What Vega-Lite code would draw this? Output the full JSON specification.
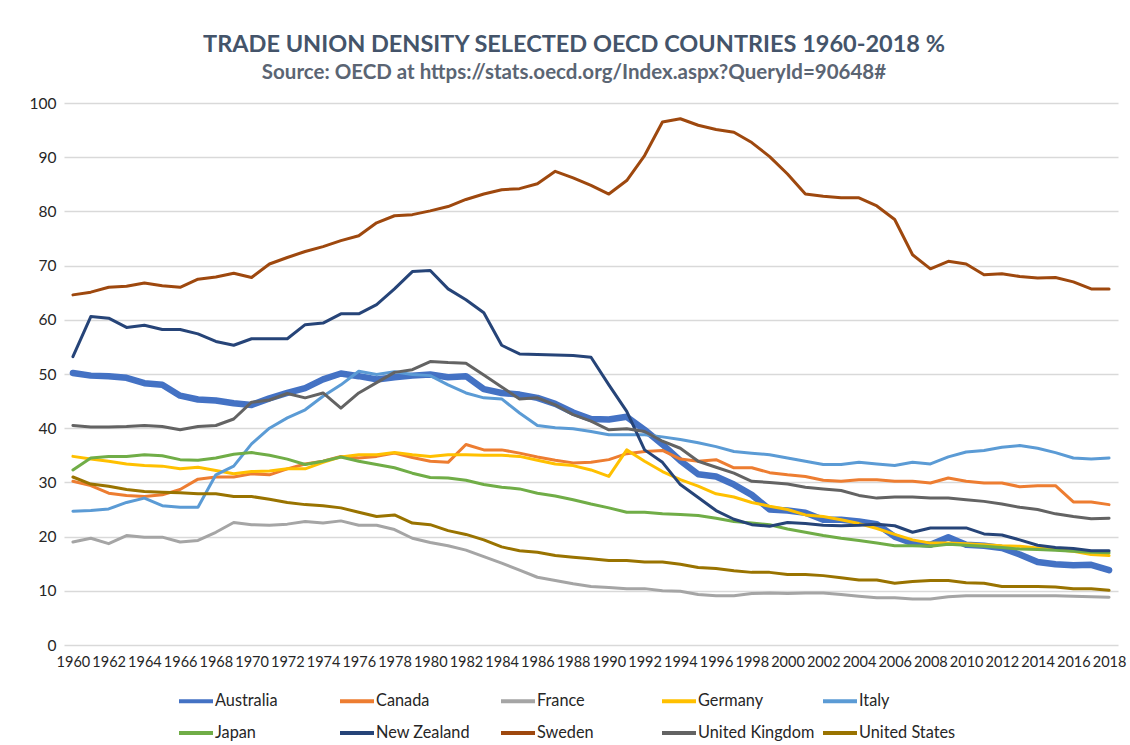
{
"$schema": "https://vega.github.io/schema/vega-lite/v6.json",
"width": 1054, "height": 542,
"autosize": "none",
"padding": {"left": 64, "top": 103, "right": 12, "bottom": 100},
"background": "white",
"title": {"text": "TRADE UNION DENSITY SELECTED OECD COUNTRIES 1960-2018 %", "subtitle": "Source: OECD at https://stats.oecd.org/Index.aspx?QueryId=90648#", "anchor": "middle", "frame": "group", "dx": -17, "offset": 13, "font": "Lato", "fontSize": 23.5, "fontWeight": "bold", "color": "#44546A", "subtitleFont": "Lato", "subtitleFontSize": 20.5, "subtitleFontWeight": "bold", "subtitleColor": "#5B6573", "subtitlePadding": 6},
"config": {"view": {"stroke": null}},
"data": {"values": [
{"country":"Australia","year":1960,"value":50.2},{"country":"Australia","year":1961,"value":49.7},{"country":"Australia","year":1962,"value":49.6},{"country":"Australia","year":1963,"value":49.3},{"country":"Australia","year":1964,"value":48.3},{"country":"Australia","year":1965,"value":48.0},{"country":"Australia","year":1966,"value":46.0},{"country":"Australia","year":1967,"value":45.3},{"country":"Australia","year":1968,"value":45.1},{"country":"Australia","year":1969,"value":44.6},{"country":"Australia","year":1970,"value":44.3},{"country":"Australia","year":1971,"value":45.5},{"country":"Australia","year":1972,"value":46.5},{"country":"Australia","year":1973,"value":47.4},{"country":"Australia","year":1974,"value":49.0},{"country":"Australia","year":1975,"value":50.1},{"country":"Australia","year":1976,"value":49.6},{"country":"Australia","year":1977,"value":49.0},{"country":"Australia","year":1978,"value":49.4},{"country":"Australia","year":1979,"value":49.7},{"country":"Australia","year":1980,"value":49.9},{"country":"Australia","year":1981,"value":49.4},{"country":"Australia","year":1982,"value":49.6},{"country":"Australia","year":1983,"value":47.2},{"country":"Australia","year":1984,"value":46.5},{"country":"Australia","year":1985,"value":46.2},{"country":"Australia","year":1986,"value":45.6},{"country":"Australia","year":1987,"value":44.5},{"country":"Australia","year":1988,"value":42.9},{"country":"Australia","year":1989,"value":41.7},{"country":"Australia","year":1990,"value":41.6},{"country":"Australia","year":1991,"value":42.1},{"country":"Australia","year":1992,"value":39.7},{"country":"Australia","year":1993,"value":37.0},{"country":"Australia","year":1994,"value":34.0},{"country":"Australia","year":1995,"value":31.5},{"country":"Australia","year":1996,"value":31.1},{"country":"Australia","year":1997,"value":29.6},{"country":"Australia","year":1998,"value":27.7},{"country":"Australia","year":1999,"value":25.0},{"country":"Australia","year":2000,"value":24.8},{"country":"Australia","year":2001,"value":24.4},{"country":"Australia","year":2002,"value":23.1},{"country":"Australia","year":2003,"value":23.1},{"country":"Australia","year":2004,"value":22.8},{"country":"Australia","year":2005,"value":22.3},{"country":"Australia","year":2006,"value":20.0},{"country":"Australia","year":2007,"value":18.8},{"country":"Australia","year":2008,"value":18.5},{"country":"Australia","year":2009,"value":19.9},{"country":"Australia","year":2010,"value":18.5},{"country":"Australia","year":2011,"value":18.3},{"country":"Australia","year":2012,"value":17.9},{"country":"Australia","year":2013,"value":16.7},{"country":"Australia","year":2014,"value":15.3},{"country":"Australia","year":2015,"value":14.9},{"country":"Australia","year":2016,"value":14.7},{"country":"Australia","year":2017,"value":14.8},{"country":"Australia","year":2018,"value":13.8},
{"country":"Canada","year":1960,"value":30.2},{"country":"Canada","year":1961,"value":29.4},{"country":"Canada","year":1962,"value":28.0},{"country":"Canada","year":1963,"value":27.6},{"country":"Canada","year":1964,"value":27.4},{"country":"Canada","year":1965,"value":27.7},{"country":"Canada","year":1966,"value":28.7},{"country":"Canada","year":1967,"value":30.6},{"country":"Canada","year":1968,"value":31.0},{"country":"Canada","year":1969,"value":31.0},{"country":"Canada","year":1970,"value":31.6},{"country":"Canada","year":1971,"value":31.4},{"country":"Canada","year":1972,"value":32.5},{"country":"Canada","year":1973,"value":33.4},{"country":"Canada","year":1974,"value":33.9},{"country":"Canada","year":1975,"value":34.8},{"country":"Canada","year":1976,"value":34.5},{"country":"Canada","year":1977,"value":34.8},{"country":"Canada","year":1978,"value":35.4},{"country":"Canada","year":1979,"value":34.6},{"country":"Canada","year":1980,"value":33.9},{"country":"Canada","year":1981,"value":33.7},{"country":"Canada","year":1982,"value":37.0},{"country":"Canada","year":1983,"value":36.0},{"country":"Canada","year":1984,"value":36.0},{"country":"Canada","year":1985,"value":35.4},{"country":"Canada","year":1986,"value":34.7},{"country":"Canada","year":1987,"value":34.1},{"country":"Canada","year":1988,"value":33.6},{"country":"Canada","year":1989,"value":33.7},{"country":"Canada","year":1990,"value":34.2},{"country":"Canada","year":1991,"value":35.3},{"country":"Canada","year":1992,"value":35.7},{"country":"Canada","year":1993,"value":35.9},{"country":"Canada","year":1994,"value":34.3},{"country":"Canada","year":1995,"value":33.9},{"country":"Canada","year":1996,"value":34.2},{"country":"Canada","year":1997,"value":32.7},{"country":"Canada","year":1998,"value":32.7},{"country":"Canada","year":1999,"value":31.8},{"country":"Canada","year":2000,"value":31.4},{"country":"Canada","year":2001,"value":31.1},{"country":"Canada","year":2002,"value":30.4},{"country":"Canada","year":2003,"value":30.2},{"country":"Canada","year":2004,"value":30.5},{"country":"Canada","year":2005,"value":30.5},{"country":"Canada","year":2006,"value":30.2},{"country":"Canada","year":2007,"value":30.2},{"country":"Canada","year":2008,"value":29.9},{"country":"Canada","year":2009,"value":30.8},{"country":"Canada","year":2010,"value":30.2},{"country":"Canada","year":2011,"value":29.9},{"country":"Canada","year":2012,"value":29.9},{"country":"Canada","year":2013,"value":29.2},{"country":"Canada","year":2014,"value":29.4},{"country":"Canada","year":2015,"value":29.4},{"country":"Canada","year":2016,"value":26.4},{"country":"Canada","year":2017,"value":26.4},{"country":"Canada","year":2018,"value":25.9},
{"country":"France","year":1960,"value":19.0},{"country":"France","year":1961,"value":19.7},{"country":"France","year":1962,"value":18.7},{"country":"France","year":1963,"value":20.2},{"country":"France","year":1964,"value":19.9},{"country":"France","year":1965,"value":19.9},{"country":"France","year":1966,"value":19.0},{"country":"France","year":1967,"value":19.3},{"country":"France","year":1968,"value":20.8},{"country":"France","year":1969,"value":22.6},{"country":"France","year":1970,"value":22.2},{"country":"France","year":1971,"value":22.1},{"country":"France","year":1972,"value":22.3},{"country":"France","year":1973,"value":22.8},{"country":"France","year":1974,"value":22.5},{"country":"France","year":1975,"value":22.9},{"country":"France","year":1976,"value":22.1},{"country":"France","year":1977,"value":22.1},{"country":"France","year":1978,"value":21.3},{"country":"France","year":1979,"value":19.7},{"country":"France","year":1980,"value":18.9},{"country":"France","year":1981,"value":18.3},{"country":"France","year":1982,"value":17.5},{"country":"France","year":1983,"value":16.3},{"country":"France","year":1984,"value":15.1},{"country":"France","year":1985,"value":13.8},{"country":"France","year":1986,"value":12.5},{"country":"France","year":1987,"value":11.9},{"country":"France","year":1988,"value":11.3},{"country":"France","year":1989,"value":10.8},{"country":"France","year":1990,"value":10.6},{"country":"France","year":1991,"value":10.4},{"country":"France","year":1992,"value":10.4},{"country":"France","year":1993,"value":10.0},{"country":"France","year":1994,"value":9.9},{"country":"France","year":1995,"value":9.3},{"country":"France","year":1996,"value":9.1},{"country":"France","year":1997,"value":9.1},{"country":"France","year":1998,"value":9.5},{"country":"France","year":1999,"value":9.6},{"country":"France","year":2000,"value":9.5},{"country":"France","year":2001,"value":9.6},{"country":"France","year":2002,"value":9.6},{"country":"France","year":2003,"value":9.3},{"country":"France","year":2004,"value":9.0},{"country":"France","year":2005,"value":8.7},{"country":"France","year":2006,"value":8.7},{"country":"France","year":2007,"value":8.5},{"country":"France","year":2008,"value":8.5},{"country":"France","year":2009,"value":8.9},{"country":"France","year":2010,"value":9.1},{"country":"France","year":2011,"value":9.1},{"country":"France","year":2012,"value":9.1},{"country":"France","year":2013,"value":9.1},{"country":"France","year":2014,"value":9.1},{"country":"France","year":2015,"value":9.1},{"country":"France","year":2016,"value":9.0},{"country":"France","year":2017,"value":8.9},{"country":"France","year":2018,"value":8.8},
{"country":"Germany","year":1960,"value":34.8},{"country":"Germany","year":1961,"value":34.3},{"country":"Germany","year":1962,"value":33.9},{"country":"Germany","year":1963,"value":33.4},{"country":"Germany","year":1964,"value":33.1},{"country":"Germany","year":1965,"value":33.0},{"country":"Germany","year":1966,"value":32.5},{"country":"Germany","year":1967,"value":32.8},{"country":"Germany","year":1968,"value":32.2},{"country":"Germany","year":1969,"value":31.6},{"country":"Germany","year":1970,"value":32.0},{"country":"Germany","year":1971,"value":32.1},{"country":"Germany","year":1972,"value":32.5},{"country":"Germany","year":1973,"value":32.5},{"country":"Germany","year":1974,"value":33.7},{"country":"Germany","year":1975,"value":34.7},{"country":"Germany","year":1976,"value":35.1},{"country":"Germany","year":1977,"value":35.1},{"country":"Germany","year":1978,"value":35.5},{"country":"Germany","year":1979,"value":35.1},{"country":"Germany","year":1980,"value":34.8},{"country":"Germany","year":1981,"value":35.1},{"country":"Germany","year":1982,"value":35.1},{"country":"Germany","year":1983,"value":35.0},{"country":"Germany","year":1984,"value":35.0},{"country":"Germany","year":1985,"value":34.8},{"country":"Germany","year":1986,"value":34.1},{"country":"Germany","year":1987,"value":33.4},{"country":"Germany","year":1988,"value":33.1},{"country":"Germany","year":1989,"value":32.3},{"country":"Germany","year":1990,"value":31.1},{"country":"Germany","year":1991,"value":36.0},{"country":"Germany","year":1992,"value":33.9},{"country":"Germany","year":1993,"value":32.0},{"country":"Germany","year":1994,"value":30.5},{"country":"Germany","year":1995,"value":29.3},{"country":"Germany","year":1996,"value":27.9},{"country":"Germany","year":1997,"value":27.3},{"country":"Germany","year":1998,"value":26.3},{"country":"Germany","year":1999,"value":25.6},{"country":"Germany","year":2000,"value":25.0},{"country":"Germany","year":2001,"value":24.0},{"country":"Germany","year":2002,"value":23.7},{"country":"Germany","year":2003,"value":23.1},{"country":"Germany","year":2004,"value":22.4},{"country":"Germany","year":2005,"value":21.5},{"country":"Germany","year":2006,"value":20.4},{"country":"Germany","year":2007,"value":19.4},{"country":"Germany","year":2008,"value":18.8},{"country":"Germany","year":2009,"value":18.8},{"country":"Germany","year":2010,"value":18.7},{"country":"Germany","year":2011,"value":18.5},{"country":"Germany","year":2012,"value":18.3},{"country":"Germany","year":2013,"value":18.2},{"country":"Germany","year":2014,"value":17.9},{"country":"Germany","year":2015,"value":17.6},{"country":"Germany","year":2016,"value":17.3},{"country":"Germany","year":2017,"value":16.7},{"country":"Germany","year":2018,"value":16.5},
{"country":"Italy","year":1960,"value":24.7},{"country":"Italy","year":1961,"value":24.8},{"country":"Italy","year":1962,"value":25.1},{"country":"Italy","year":1963,"value":26.3},{"country":"Italy","year":1964,"value":27.1},{"country":"Italy","year":1965,"value":25.7},{"country":"Italy","year":1966,"value":25.4},{"country":"Italy","year":1967,"value":25.4},{"country":"Italy","year":1968,"value":31.4},{"country":"Italy","year":1969,"value":33.0},{"country":"Italy","year":1970,"value":37.1},{"country":"Italy","year":1971,"value":40.0},{"country":"Italy","year":1972,"value":41.9},{"country":"Italy","year":1973,"value":43.4},{"country":"Italy","year":1974,"value":45.9},{"country":"Italy","year":1975,"value":48.0},{"country":"Italy","year":1976,"value":50.5},{"country":"Italy","year":1977,"value":49.9},{"country":"Italy","year":1978,"value":50.4},{"country":"Italy","year":1979,"value":49.9},{"country":"Italy","year":1980,"value":49.7},{"country":"Italy","year":1981,"value":48.0},{"country":"Italy","year":1982,"value":46.5},{"country":"Italy","year":1983,"value":45.6},{"country":"Italy","year":1984,"value":45.4},{"country":"Italy","year":1985,"value":42.8},{"country":"Italy","year":1986,"value":40.5},{"country":"Italy","year":1987,"value":40.1},{"country":"Italy","year":1988,"value":39.9},{"country":"Italy","year":1989,"value":39.4},{"country":"Italy","year":1990,"value":38.8},{"country":"Italy","year":1991,"value":38.8},{"country":"Italy","year":1992,"value":38.8},{"country":"Italy","year":1993,"value":38.4},{"country":"Italy","year":1994,"value":37.9},{"country":"Italy","year":1995,"value":37.3},{"country":"Italy","year":1996,"value":36.6},{"country":"Italy","year":1997,"value":35.7},{"country":"Italy","year":1998,"value":35.4},{"country":"Italy","year":1999,"value":35.1},{"country":"Italy","year":2000,"value":34.5},{"country":"Italy","year":2001,"value":33.9},{"country":"Italy","year":2002,"value":33.3},{"country":"Italy","year":2003,"value":33.3},{"country":"Italy","year":2004,"value":33.7},{"country":"Italy","year":2005,"value":33.4},{"country":"Italy","year":2006,"value":33.1},{"country":"Italy","year":2007,"value":33.7},{"country":"Italy","year":2008,"value":33.4},{"country":"Italy","year":2009,"value":34.7},{"country":"Italy","year":2010,"value":35.6},{"country":"Italy","year":2011,"value":35.9},{"country":"Italy","year":2012,"value":36.5},{"country":"Italy","year":2013,"value":36.8},{"country":"Italy","year":2014,"value":36.3},{"country":"Italy","year":2015,"value":35.5},{"country":"Italy","year":2016,"value":34.5},{"country":"Italy","year":2017,"value":34.3},{"country":"Italy","year":2018,"value":34.5},
{"country":"Japan","year":1960,"value":32.3},{"country":"Japan","year":1961,"value":34.5},{"country":"Japan","year":1962,"value":34.8},{"country":"Japan","year":1963,"value":34.8},{"country":"Japan","year":1964,"value":35.1},{"country":"Japan","year":1965,"value":34.9},{"country":"Japan","year":1966,"value":34.2},{"country":"Japan","year":1967,"value":34.1},{"country":"Japan","year":1968,"value":34.5},{"country":"Japan","year":1969,"value":35.2},{"country":"Japan","year":1970,"value":35.5},{"country":"Japan","year":1971,"value":35.0},{"country":"Japan","year":1972,"value":34.3},{"country":"Japan","year":1973,"value":33.3},{"country":"Japan","year":1974,"value":33.9},{"country":"Japan","year":1975,"value":34.7},{"country":"Japan","year":1976,"value":33.9},{"country":"Japan","year":1977,"value":33.3},{"country":"Japan","year":1978,"value":32.7},{"country":"Japan","year":1979,"value":31.7},{"country":"Japan","year":1980,"value":30.9},{"country":"Japan","year":1981,"value":30.8},{"country":"Japan","year":1982,"value":30.4},{"country":"Japan","year":1983,"value":29.6},{"country":"Japan","year":1984,"value":29.1},{"country":"Japan","year":1985,"value":28.8},{"country":"Japan","year":1986,"value":28.0},{"country":"Japan","year":1987,"value":27.5},{"country":"Japan","year":1988,"value":26.8},{"country":"Japan","year":1989,"value":26.0},{"country":"Japan","year":1990,"value":25.3},{"country":"Japan","year":1991,"value":24.5},{"country":"Japan","year":1992,"value":24.5},{"country":"Japan","year":1993,"value":24.2},{"country":"Japan","year":1994,"value":24.1},{"country":"Japan","year":1995,"value":23.9},{"country":"Japan","year":1996,"value":23.4},{"country":"Japan","year":1997,"value":22.8},{"country":"Japan","year":1998,"value":22.5},{"country":"Japan","year":1999,"value":22.2},{"country":"Japan","year":2000,"value":21.4},{"country":"Japan","year":2001,"value":20.8},{"country":"Japan","year":2002,"value":20.2},{"country":"Japan","year":2003,"value":19.7},{"country":"Japan","year":2004,"value":19.3},{"country":"Japan","year":2005,"value":18.8},{"country":"Japan","year":2006,"value":18.3},{"country":"Japan","year":2007,"value":18.3},{"country":"Japan","year":2008,"value":18.2},{"country":"Japan","year":2009,"value":18.6},{"country":"Japan","year":2010,"value":18.4},{"country":"Japan","year":2011,"value":18.2},{"country":"Japan","year":2012,"value":18.0},{"country":"Japan","year":2013,"value":17.7},{"country":"Japan","year":2014,"value":17.6},{"country":"Japan","year":2015,"value":17.5},{"country":"Japan","year":2016,"value":17.3},{"country":"Japan","year":2017,"value":17.1},{"country":"Japan","year":2018,"value":17.0},
{"country":"New Zealand","year":1960,"value":53.2},{"country":"New Zealand","year":1961,"value":60.6},{"country":"New Zealand","year":1962,"value":60.3},{"country":"New Zealand","year":1963,"value":58.6},{"country":"New Zealand","year":1964,"value":59.0},{"country":"New Zealand","year":1965,"value":58.2},{"country":"New Zealand","year":1966,"value":58.2},{"country":"New Zealand","year":1967,"value":57.4},{"country":"New Zealand","year":1968,"value":56.0},{"country":"New Zealand","year":1969,"value":55.3},{"country":"New Zealand","year":1970,"value":56.5},{"country":"New Zealand","year":1971,"value":56.5},{"country":"New Zealand","year":1972,"value":56.5},{"country":"New Zealand","year":1973,"value":59.1},{"country":"New Zealand","year":1974,"value":59.4},{"country":"New Zealand","year":1975,"value":61.1},{"country":"New Zealand","year":1976,"value":61.1},{"country":"New Zealand","year":1977,"value":62.8},{"country":"New Zealand","year":1978,"value":65.7},{"country":"New Zealand","year":1979,"value":68.9},{"country":"New Zealand","year":1980,"value":69.1},{"country":"New Zealand","year":1981,"value":65.7},{"country":"New Zealand","year":1982,"value":63.7},{"country":"New Zealand","year":1983,"value":61.3},{"country":"New Zealand","year":1984,"value":55.3},{"country":"New Zealand","year":1985,"value":53.7},{"country":"New Zealand","year":1986,"value":53.6},{"country":"New Zealand","year":1987,"value":53.5},{"country":"New Zealand","year":1988,"value":53.4},{"country":"New Zealand","year":1989,"value":53.1},{"country":"New Zealand","year":1990,"value":48.0},{"country":"New Zealand","year":1991,"value":43.1},{"country":"New Zealand","year":1992,"value":36.0},{"country":"New Zealand","year":1993,"value":33.7},{"country":"New Zealand","year":1994,"value":29.6},{"country":"New Zealand","year":1995,"value":27.2},{"country":"New Zealand","year":1996,"value":24.8},{"country":"New Zealand","year":1997,"value":23.2},{"country":"New Zealand","year":1998,"value":22.2},{"country":"New Zealand","year":1999,"value":21.9},{"country":"New Zealand","year":2000,"value":22.6},{"country":"New Zealand","year":2001,"value":22.4},{"country":"New Zealand","year":2002,"value":22.1},{"country":"New Zealand","year":2003,"value":22.0},{"country":"New Zealand","year":2004,"value":22.1},{"country":"New Zealand","year":2005,"value":22.3},{"country":"New Zealand","year":2006,"value":22.0},{"country":"New Zealand","year":2007,"value":20.8},{"country":"New Zealand","year":2008,"value":21.6},{"country":"New Zealand","year":2009,"value":21.6},{"country":"New Zealand","year":2010,"value":21.6},{"country":"New Zealand","year":2011,"value":20.5},{"country":"New Zealand","year":2012,"value":20.3},{"country":"New Zealand","year":2013,"value":19.4},{"country":"New Zealand","year":2014,"value":18.4},{"country":"New Zealand","year":2015,"value":18.0},{"country":"New Zealand","year":2016,"value":17.8},{"country":"New Zealand","year":2017,"value":17.4},{"country":"New Zealand","year":2018,"value":17.4},
{"country":"Sweden","year":1960,"value":64.6},{"country":"Sweden","year":1961,"value":65.1},{"country":"Sweden","year":1962,"value":66.0},{"country":"Sweden","year":1963,"value":66.2},{"country":"Sweden","year":1964,"value":66.8},{"country":"Sweden","year":1965,"value":66.3},{"country":"Sweden","year":1966,"value":66.0},{"country":"Sweden","year":1967,"value":67.5},{"country":"Sweden","year":1968,"value":67.9},{"country":"Sweden","year":1969,"value":68.6},{"country":"Sweden","year":1970,"value":67.8},{"country":"Sweden","year":1971,"value":70.3},{"country":"Sweden","year":1972,"value":71.5},{"country":"Sweden","year":1973,"value":72.6},{"country":"Sweden","year":1974,"value":73.5},{"country":"Sweden","year":1975,"value":74.6},{"country":"Sweden","year":1976,"value":75.5},{"country":"Sweden","year":1977,"value":77.9},{"country":"Sweden","year":1978,"value":79.2},{"country":"Sweden","year":1979,"value":79.4},{"country":"Sweden","year":1980,"value":80.1},{"country":"Sweden","year":1981,"value":80.9},{"country":"Sweden","year":1982,"value":82.2},{"country":"Sweden","year":1983,"value":83.2},{"country":"Sweden","year":1984,"value":84.0},{"country":"Sweden","year":1985,"value":84.2},{"country":"Sweden","year":1986,"value":85.1},{"country":"Sweden","year":1987,"value":87.4},{"country":"Sweden","year":1988,"value":86.2},{"country":"Sweden","year":1989,"value":84.8},{"country":"Sweden","year":1990,"value":83.2},{"country":"Sweden","year":1991,"value":85.7},{"country":"Sweden","year":1992,"value":90.3},{"country":"Sweden","year":1993,"value":96.5},{"country":"Sweden","year":1994,"value":97.1},{"country":"Sweden","year":1995,"value":95.9},{"country":"Sweden","year":1996,"value":95.1},{"country":"Sweden","year":1997,"value":94.6},{"country":"Sweden","year":1998,"value":92.7},{"country":"Sweden","year":1999,"value":90.1},{"country":"Sweden","year":2000,"value":86.9},{"country":"Sweden","year":2001,"value":83.2},{"country":"Sweden","year":2002,"value":82.8},{"country":"Sweden","year":2003,"value":82.5},{"country":"Sweden","year":2004,"value":82.5},{"country":"Sweden","year":2005,"value":81.0},{"country":"Sweden","year":2006,"value":78.5},{"country":"Sweden","year":2007,"value":72.0},{"country":"Sweden","year":2008,"value":69.4},{"country":"Sweden","year":2009,"value":70.8},{"country":"Sweden","year":2010,"value":70.3},{"country":"Sweden","year":2011,"value":68.3},{"country":"Sweden","year":2012,"value":68.5},{"country":"Sweden","year":2013,"value":68.0},{"country":"Sweden","year":2014,"value":67.7},{"country":"Sweden","year":2015,"value":67.8},{"country":"Sweden","year":2016,"value":67.0},{"country":"Sweden","year":2017,"value":65.7},{"country":"Sweden","year":2018,"value":65.7},
{"country":"United Kingdom","year":1960,"value":40.5},{"country":"United Kingdom","year":1961,"value":40.2},{"country":"United Kingdom","year":1962,"value":40.2},{"country":"United Kingdom","year":1963,"value":40.3},{"country":"United Kingdom","year":1964,"value":40.5},{"country":"United Kingdom","year":1965,"value":40.3},{"country":"United Kingdom","year":1966,"value":39.7},{"country":"United Kingdom","year":1967,"value":40.3},{"country":"United Kingdom","year":1968,"value":40.5},{"country":"United Kingdom","year":1969,"value":41.7},{"country":"United Kingdom","year":1970,"value":44.8},{"country":"United Kingdom","year":1971,"value":45.2},{"country":"United Kingdom","year":1972,"value":46.4},{"country":"United Kingdom","year":1973,"value":45.6},{"country":"United Kingdom","year":1974,"value":46.5},{"country":"United Kingdom","year":1975,"value":43.7},{"country":"United Kingdom","year":1976,"value":46.5},{"country":"United Kingdom","year":1977,"value":48.4},{"country":"United Kingdom","year":1978,"value":50.3},{"country":"United Kingdom","year":1979,"value":50.8},{"country":"United Kingdom","year":1980,"value":52.3},{"country":"United Kingdom","year":1981,"value":52.1},{"country":"United Kingdom","year":1982,"value":52.0},{"country":"United Kingdom","year":1983,"value":49.8},{"country":"United Kingdom","year":1984,"value":47.6},{"country":"United Kingdom","year":1985,"value":45.4},{"country":"United Kingdom","year":1986,"value":45.6},{"country":"United Kingdom","year":1987,"value":44.3},{"country":"United Kingdom","year":1988,"value":42.5},{"country":"United Kingdom","year":1989,"value":41.3},{"country":"United Kingdom","year":1990,"value":39.7},{"country":"United Kingdom","year":1991,"value":39.9},{"country":"United Kingdom","year":1992,"value":39.4},{"country":"United Kingdom","year":1993,"value":37.6},{"country":"United Kingdom","year":1994,"value":36.3},{"country":"United Kingdom","year":1995,"value":33.9},{"country":"United Kingdom","year":1996,"value":32.8},{"country":"United Kingdom","year":1997,"value":31.7},{"country":"United Kingdom","year":1998,"value":30.2},{"country":"United Kingdom","year":1999,"value":30.0},{"country":"United Kingdom","year":2000,"value":29.7},{"country":"United Kingdom","year":2001,"value":29.1},{"country":"United Kingdom","year":2002,"value":28.8},{"country":"United Kingdom","year":2003,"value":28.5},{"country":"United Kingdom","year":2004,"value":27.6},{"country":"United Kingdom","year":2005,"value":27.1},{"country":"United Kingdom","year":2006,"value":27.3},{"country":"United Kingdom","year":2007,"value":27.3},{"country":"United Kingdom","year":2008,"value":27.1},{"country":"United Kingdom","year":2009,"value":27.1},{"country":"United Kingdom","year":2010,"value":26.8},{"country":"United Kingdom","year":2011,"value":26.5},{"country":"United Kingdom","year":2012,"value":26.0},{"country":"United Kingdom","year":2013,"value":25.4},{"country":"United Kingdom","year":2014,"value":25.0},{"country":"United Kingdom","year":2015,"value":24.2},{"country":"United Kingdom","year":2016,"value":23.7},{"country":"United Kingdom","year":2017,"value":23.3},{"country":"United Kingdom","year":2018,"value":23.4},
{"country":"United States","year":1960,"value":31.0},{"country":"United States","year":1961,"value":29.7},{"country":"United States","year":1962,"value":29.3},{"country":"United States","year":1963,"value":28.7},{"country":"United States","year":1964,"value":28.3},{"country":"United States","year":1965,"value":28.2},{"country":"United States","year":1966,"value":28.1},{"country":"United States","year":1967,"value":27.9},{"country":"United States","year":1968,"value":27.9},{"country":"United States","year":1969,"value":27.4},{"country":"United States","year":1970,"value":27.4},{"country":"United States","year":1971,"value":26.9},{"country":"United States","year":1972,"value":26.3},{"country":"United States","year":1973,"value":25.9},{"country":"United States","year":1974,"value":25.7},{"country":"United States","year":1975,"value":25.3},{"country":"United States","year":1976,"value":24.5},{"country":"United States","year":1977,"value":23.7},{"country":"United States","year":1978,"value":24.0},{"country":"United States","year":1979,"value":22.5},{"country":"United States","year":1980,"value":22.2},{"country":"United States","year":1981,"value":21.1},{"country":"United States","year":1982,"value":20.4},{"country":"United States","year":1983,"value":19.4},{"country":"United States","year":1984,"value":18.1},{"country":"United States","year":1985,"value":17.4},{"country":"United States","year":1986,"value":17.1},{"country":"United States","year":1987,"value":16.5},{"country":"United States","year":1988,"value":16.2},{"country":"United States","year":1989,"value":15.9},{"country":"United States","year":1990,"value":15.6},{"country":"United States","year":1991,"value":15.6},{"country":"United States","year":1992,"value":15.3},{"country":"United States","year":1993,"value":15.3},{"country":"United States","year":1994,"value":14.9},{"country":"United States","year":1995,"value":14.3},{"country":"United States","year":1996,"value":14.1},{"country":"United States","year":1997,"value":13.7},{"country":"United States","year":1998,"value":13.4},{"country":"United States","year":1999,"value":13.4},{"country":"United States","year":2000,"value":13.0},{"country":"United States","year":2001,"value":13.0},{"country":"United States","year":2002,"value":12.8},{"country":"United States","year":2003,"value":12.4},{"country":"United States","year":2004,"value":12.0},{"country":"United States","year":2005,"value":12.0},{"country":"United States","year":2006,"value":11.4},{"country":"United States","year":2007,"value":11.7},{"country":"United States","year":2008,"value":11.9},{"country":"United States","year":2009,"value":11.9},{"country":"United States","year":2010,"value":11.5},{"country":"United States","year":2011,"value":11.4},{"country":"United States","year":2012,"value":10.8},{"country":"United States","year":2013,"value":10.8},{"country":"United States","year":2014,"value":10.8},{"country":"United States","year":2015,"value":10.7},{"country":"United States","year":2016,"value":10.4},{"country":"United States","year":2017,"value":10.4},{"country":"United States","year":2018,"value":10.1}
]},
"mark": {"type": "line", "strokeJoin": "round", "strokeCap": "round"},
"encoding": {
"x": {"field": "year", "type": "quantitative", "scale": {"domain": [1959.5, 2018.5], "nice": false, "zero": false},
 "axis": {"values": [1960,1962,1964,1966,1968,1970,1972,1974,1976,1978,1980,1982,1984,1986,1988,1990,1992,1994,1996,1998,2000,2002,2004,2006,2008,2010,2012,2014,2016,2018], "format": "d", "title": null, "grid": false, "ticks": false, "domain": false, "labelFont": "Lato", "labelFontSize": 14.5, "labelPadding": 10, "labelColor": "#262626", "labelOverlap": false}},
"y": {"field": "value", "type": "quantitative", "scale": {"domain": [0, 100], "nice": false},
 "axis": {"values": [0,10,20,30,40,50,60,70,80,90,100], "title": null, "grid": true, "gridColor": "#D9D9D9", "gridWidth": 1.3, "ticks": false, "domain": false, "labelFont": "Lato", "labelFontSize": 15.5, "labelPadding": 8, "labelColor": "#262626"}},
"color": {"field": "country", "type": "nominal",
 "scale": {"domain": ["Australia","Canada","France","Germany","Italy","Japan","New Zealand","Sweden","United Kingdom","United States"], "range": ["#4472C4","#ED7D31","#A5A5A5","#FFC000","#5B9BD5","#70AD47","#264478","#9E480E","#636363","#997300"]},
 "legend": {"title": null, "orient": "none", "legendX": 113, "legendY": 579, "direction": "horizontal", "columns": 5, "gridAlign": "all", "symbolType": "stroke", "symbolSize": 1156, "symbolStrokeWidth": 4, "labelFont": "Lato", "labelFontSize": 16.3, "labelColor": "#262626", "labelOffset": 0, "columnPadding": 0, "rowPadding": 4, "padding": 0}},
"strokeWidth": {"condition": {"test": "datum.country === 'Australia'", "value": 6.5}, "value": 3}
}
}
